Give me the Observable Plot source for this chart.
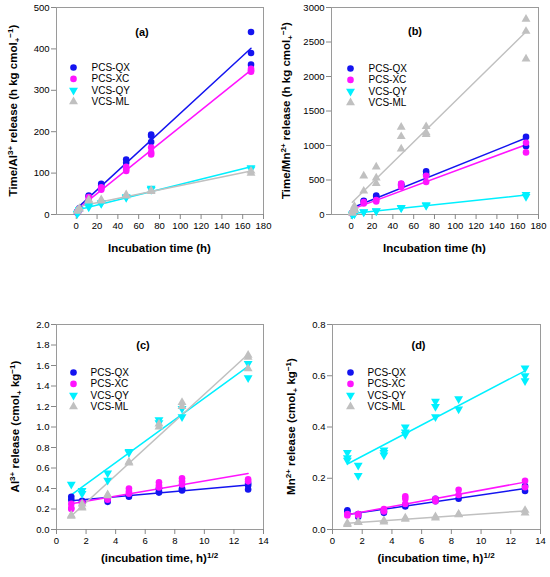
<!DOCTYPE html>
<html>
<head>
<meta charset="utf-8">
<script src="https://cdn.jsdelivr.net/npm/d3@7"></script>
<script src="https://cdn.jsdelivr.net/npm/@observablehq/plot@0.6"></script>
<style>
  html, body { margin: 0; padding: 0; background: white; }
  #fig { position: relative; width: 550px; height: 577px; background: white; }
  .panel { position: absolute; }
</style>
</head>
<body>
<div id="fig"></div>
<script>
// ---- data ----
const series = ["PCS-QX", "PCS-XC", "VCS-QY", "VCS-ML"];
const seriesColors = ["#1414f0", "#ff14ff", "#00f0ff", "#c0c0c0"];
const seriesSymbols = ["circle", "circle", "triangle", "triangle"];

const hours = [1, 3, 12, 24, 48, 72, 168];
const rootHours = [1, 1.73, 3.46, 4.9, 6.93, 8.49, 12.96];

const hourTicks = [0, 20, 40, 60, 80, 100, 120, 140, 160, 180];
const rootTicks = [0, 2, 4, 6, 8, 10, 12, 14];
const ticksA = [0, 100, 200, 300, 400, 500];
const ticksB = [0, 500, 1000, 1500, 2000, 2500, 3000];
const ticksC = [0, 0.2, 0.4, 0.6, 0.8, 1.0, 1.2, 1.4, 1.6, 1.8, 2.0];
const ticksD = [0, 0.2, 0.4, 0.6, 0.8];

// (a) Time / Al3+ release
const alQX = [[5, 7], [15, 12], [46, 44], [74, 70], [133, 125], [193, 190, 175], [441, 390, 362]];
const alXC = [[6, 4], [13, 11], [42, 38], [66, 62, 60], [115, 110, 105], [162, 150, 145], [352, 348, 345]];
const alQY = [[2, 3], [12, 10], [22, 18], [28, 26], [43, 41], [63, 60], [113, 110]];
const alML = [[8, 9], [15, 13], [36, 33], [36, 33], [48, 45], [58, 56], [105, 100]];

// (b) Time / Mn2+ release
const mnQX = [[20, 25], [60, 50], [200, 190], [275, 260], [440, 420], [625, 580], [1125, 990]];
const mnXC = [[15, 10], [50, 45], [180, 160], [210, 190], [450, 400], [560, 470], [1040, 900]];
const mnQY = [[3, 2], [10, 8], [35, 40], [55, 50], [100, 95], [140, 130], [290, 260]];
const mnML = [[30, 20, 50], [120, 90, 60], [560, 340], [690, 530, 450], [1265, 1130, 950], [1275, 1185, 1160], [2830, 2655, 2255]];

// (c) Al3+ release
const relAlQX = [[0.32, 0.29], [0.28, 0.27], [0.27, 0.29], [0.33, 0.32], [0.37, 0.36, 0.40], [0.38, 0.40, 0.39], [0.45, 0.39, 0.43]];
const relAlXC = [[0.25, 0.21, 0.20], [0.25, 0.26], [0.30, 0.29], [0.40, 0.37, 0.35], [0.46, 0.43, 0.41], [0.50, 0.47, 0.44], [0.49, 0.47]];
const relAlQY = [[0.44], [0.38, 0.35], [0.55, 0.48], [0.76, 0.75], [1.07, 1.04], [1.18, 1.10], [1.62, 1.48]];
const relAlML = [[0.14, 0.13], [0.22, 0.21, 0.25], [0.34, 0.33], [0.66, 0.65], [1.03, 1.00], [1.24, 1.20], [1.70, 1.68, 1.57]];

// (d) Mn2+ release
const relMnQX = [[0.075, 0.07], [0.05, 0.06], [0.07, 0.065], [0.09, 0.095], [0.12, 0.11], [0.12], [0.17, 0.15]];
const relMnXC = [[0.06, 0.055], [0.06, 0.055], [0.08, 0.075, 0.07], [0.13, 0.12, 0.10], [0.12, 0.11], [0.155, 0.135], [0.19, 0.165]];
const relMnQY = [[0.30, 0.28, 0.27], [0.25, 0.21], [0.31, 0.30, 0.29], [0.40, 0.38, 0.37], [0.50, 0.48, 0.44], [0.51, 0.47], [0.63, 0.60, 0.58]];
const relMnML = [[0.02, 0.025], [0.03, 0.028], [0.035, 0.03], [0.045, 0.04], [0.05, 0.045], [0.06, 0.058], [0.075, 0.065]];

// ---- helpers ----
function rows(xs, arrays) {
  const out = [];
  arrays.forEach((arr, i) => arr.forEach((reps, j) => reps.forEach(v => out.push({series: series[i], x: xs[j], y: v}))));
  return out;
}

const FONT = "'Liberation Sans', Arial, Helvetica, sans-serif";
const intFmt = d3.format("d");

function richText(svg, parts, x, y, rotate, size) {
  const t = d3.select(svg).append("text")
    .attr("transform", `translate(${x},${y}) rotate(${rotate})`)
    .attr("y", size * 0.36)
    .attr("text-anchor", "middle")
    .attr("font-family", FONT)
    .attr("font-weight", "bold")
    .attr("font-size", size)
    .attr("fill", "black");
  let cur = 0;
  for (const [s, k] of parts) {
    const target = k === 1 ? -size * 0.4 : k === -1 ? size * 0.28 : 0;
    t.append("tspan").attr("dy", target - cur).attr("font-size", k ? size * 0.7 : size).text(s);
    cur = target;
  }
}

const panels = [
  {left: 0, top: 0, h: 290, mt: 7, mb: 76, ml: 56, mr: 12, xs: hours, xDomain: [-19, 180], xTicks: hourTicks,
   yDomain: [0, 500], yTicks: ticksA, fmt: intFmt, arrays: [alQX, alXC, alQY, alML],
   letter: "(a)", ldx: -18, ldy: 25, legDy: 60, symDx: 17, txtDx: 35, yLabX: 13, xLabY: 248,
   yLab: [["Time/Al", 0], ["3+", 1], [" release (h kg cmol", 0], ["+", -1], ["−1", 1], [")", 0]],
   xLab: [["Incubation time (h)", 0]]},
  {left: 275, top: 0, h: 290, mt: 7, mb: 76, ml: 56, mr: 12, xs: hours, xDomain: [-19, 180], xTicks: hourTicks,
   yDomain: [0, 3000], yTicks: ticksB, fmt: intFmt, arrays: [mnQX, mnXC, mnQY, mnML],
   letter: "(b)", ldx: -20, ldy: 24, legDy: 61, symDx: 19, txtDx: 37, yLabX: 11, xLabY: 248,
   yLab: [["Time/Mn", 0], ["2+", 1], [" release (h kg cmol", 0], ["+", -1], ["−1", 1], [")", 0]],
   xLab: [["Incubation time (h)", 0]]},
  {left: 0, top: 290, h: 287, mt: 34, mb: 48, ml: 56, mr: 12, xs: rootHours, xDomain: [0, 14], xTicks: rootTicks,
   yDomain: [0, 2], yTicks: ticksC, fmt: d3.format(".1f"), arrays: [relAlQX, relAlXC, relAlQY, relAlML],
   letter: "(c)", ldx: -17, ldy: 21, legDy: 48, symDx: 17, txtDx: 34, yLabX: 15, xLabY: 268,
   yLab: [["Al", 0], ["3+", 1], [" release (cmol", 0], ["+", -1], [" kg", 0], ["−1", 1], [")", 0]],
   xLab: [["(incubation time, h)", 0], ["1/2", 1]]},
  {left: 275, top: 290, h: 287, mt: 34, mb: 48, ml: 57, mr: 10, xs: rootHours, xDomain: [0, 14], xTicks: rootTicks,
   yDomain: [0, 0.8], yTicks: ticksD, fmt: d3.format(".1f"), arrays: [relMnQX, relMnXC, relMnQY, relMnML],
   letter: "(d)", ldx: -18, ldy: 21, legDy: 48, symDx: 18, txtDx: 35, yLabX: 16, xLabY: 268,
   yLab: [["Mn", 0], ["2+", 1], [" release (cmol", 0], ["+", -1], [" kg", 0], ["−1", 1], [")", 0]],
   xLab: [["(incubation time, h)", 0], ["1/2", 1]]}
];

const fig = document.getElementById("fig");

for (const p of panels) {
  const data = rows(p.xs, p.arrays);
  const rot = d => (d.series === "VCS-QY") ? 180 : 0;
  const legend = [];
  series.forEach((s, i) => {
    const dy = p.legDy + i * 11.4;
    legend.push(Plot.dot([s], {frameAnchor: "top-left", dx: p.symDx, dy, fill: d => d, symbol: d => d, r: 3.3, rotate: s === "VCS-QY" ? 180 : 0}));
    legend.push(Plot.text([s], {frameAnchor: "top-left", dx: p.txtDx, dy, text: d => d, textAnchor: "start", lineAnchor: "middle", fontSize: 10, fill: "black"}));
  });
  const svg = Plot.plot({
    width: 275, height: p.h,
    marginLeft: p.ml, marginRight: p.mr, marginTop: p.mt, marginBottom: p.mb,
    style: {fontFamily: FONT, fontSize: "9.5px", background: "white", color: "black"},
    x: {domain: p.xDomain, label: null},
    y: {domain: p.yDomain, label: null},
    color: {domain: series, range: seriesColors},
    symbol: {domain: series, range: seriesSymbols},
    marks: [
      Plot.frame({stroke: "#9a9a9a"}),
      Plot.axisX({ticks: p.xTicks, tickFormat: p.xDomain[1] > 100 ? intFmt : intFmt, tickSize: 5, tickPadding: 3, stroke: "#888", fill: "black", label: null, fontSize: 9.5}),
      Plot.axisY({ticks: p.yTicks, tickFormat: p.fmt, tickSize: 5, tickPadding: 2, stroke: "#888", fill: "black", label: null, fontSize: 9.5}),
      Plot.linearRegressionY(data, {x: "x", y: "y", stroke: "series", ci: 0, strokeWidth: 1.5}),
      Plot.dot(data, {x: "x", y: "y", fill: "series", symbol: "series", r: 3.3, rotate: rot}),
      ...legend,
      Plot.text([p.letter], {frameAnchor: "top", dx: p.ldx, dy: p.ldy, text: d => d, lineAnchor: "middle", fontWeight: "bold", fontSize: 11, fill: "black"})
    ]
  });
  richText(svg, p.yLab, p.yLabX, p.mt + (p.h - p.mt - p.mb) / 2, -90, 11.5);
  richText(svg, p.xLab, p.ml + (275 - p.ml - p.mr) / 2, p.xLabY, 0, 11.5);
  const div = document.createElement("div");
  div.className = "panel";
  div.style.left = p.left + "px";
  div.style.top = p.top + "px";
  div.appendChild(svg);
  fig.appendChild(div);
}
</script>
</body>
</html>
